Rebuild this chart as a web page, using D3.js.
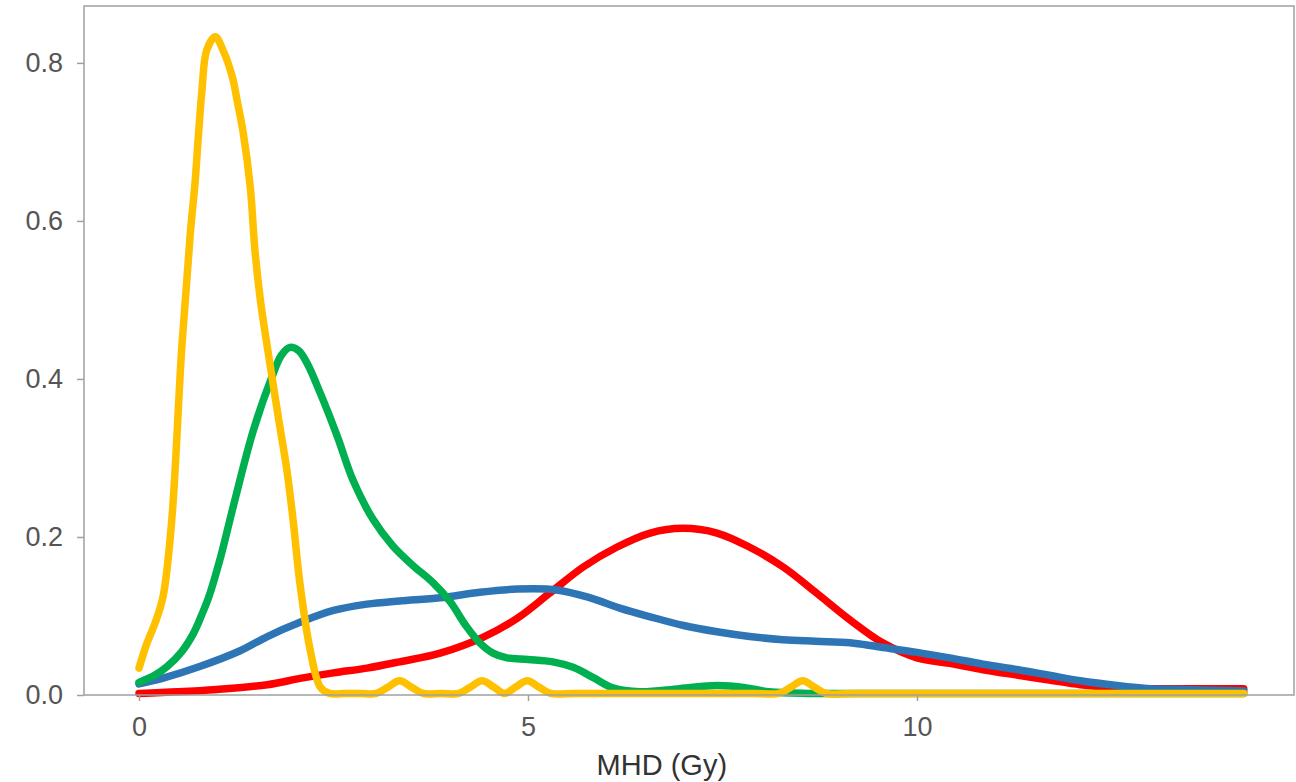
<!DOCTYPE html>
<html>
<head>
    <meta charset="utf-8">
    <title>MHD density</title>
    <script type="text/javascript" src="https://d3js.org/d3.v7.min.js"></script>
    <style>
        body { margin: 0; background: #fff; }
        .tick text { font-family: "Liberation Sans", Arial, sans-serif; }
    </style>
</head>

<body>

<script type="text/javascript">
    // density curves, [MHD (Gy), density]
    var redSeries = [
        [0, 0.002], [0.5, 0.004], [1.0, 0.007], [1.65, 0.013], [2.07, 0.021],
        [2.5, 0.028], [2.93, 0.034], [3.35, 0.042], [3.87, 0.053], [4.42, 0.073],
        [4.86, 0.097], [5.28, 0.129], [5.71, 0.162], [6.14, 0.187], [6.57, 0.205],
        [6.99, 0.211], [7.43, 0.205], [7.85, 0.187], [8.28, 0.162], [8.71, 0.129],
        [9.14, 0.095], [9.56, 0.066], [10.0, 0.047], [10.42, 0.040], [10.85, 0.032],
        [11.3, 0.025], [11.7, 0.019], [12.1, 0.013], [12.57, 0.009], [13.0, 0.008],
        [13.42, 0.008], [13.8, 0.008], [14.2, 0.008]
    ];
    var blueSeries = [
        [0, 0.014], [0.3, 0.021], [0.78, 0.036], [1.3, 0.056], [1.65, 0.074],
        [2.07, 0.092], [2.5, 0.107], [2.93, 0.115], [3.35, 0.119], [3.87, 0.123],
        [4.38, 0.130], [4.86, 0.134], [5.37, 0.133], [5.8, 0.123], [6.18, 0.110],
        [6.57, 0.099], [7.0, 0.088], [7.43, 0.080], [7.85, 0.074], [8.28, 0.070],
        [8.7, 0.068], [9.14, 0.066], [9.5, 0.061], [10.0, 0.054], [10.42, 0.047],
        [10.85, 0.039], [11.3, 0.032], [11.7, 0.025], [12.1, 0.018], [12.57, 0.012],
        [13.0, 0.008], [13.42, 0.007], [13.8, 0.006], [14.2, 0.005]
    ];
    var greenSeries = [
        [0, 0.016], [0.2, 0.025], [0.36, 0.036], [0.55, 0.055], [0.7, 0.078],
        [0.8, 0.100], [0.9, 0.125], [1.05, 0.175], [1.21, 0.238], [1.47, 0.335],
        [1.71, 0.403], [1.83, 0.430], [1.94, 0.440], [2.05, 0.436], [2.16, 0.420],
        [2.33, 0.382], [2.55, 0.327], [2.75, 0.272], [3.01, 0.222], [3.26, 0.189],
        [3.52, 0.164], [3.78, 0.142], [4.0, 0.118], [4.2, 0.088], [4.38, 0.066],
        [4.55, 0.053], [4.73, 0.047], [5.0, 0.045], [5.32, 0.042], [5.58, 0.035],
        [5.84, 0.022], [6.09, 0.009], [6.44, 0.004], [6.95, 0.008], [7.43, 0.012],
        [7.81, 0.009], [8.1, 0.004], [8.6, 0.002], [9.2, 0.002], [9.8, 0.002],
        [10.5, 0.002], [11.2, 0.002], [11.9, 0.002], [12.6, 0.002], [13.3, 0.002],
        [14.2, 0.002]
    ];
    var yellowSeries = [
        [0, 0.034], [0.1, 0.065], [0.21, 0.092], [0.31, 0.125], [0.42, 0.220],
        [0.55, 0.440], [0.66, 0.585], [0.72, 0.648], [0.76, 0.703], [0.81, 0.766],
        [0.87, 0.816], [0.98, 0.833], [1.08, 0.816], [1.2, 0.782], [1.26, 0.753],
        [1.34, 0.711], [1.43, 0.643], [1.49, 0.563], [1.56, 0.500], [1.65, 0.440],
        [1.81, 0.340], [1.9, 0.285], [1.98, 0.222], [2.07, 0.140], [2.2, 0.057],
        [2.33, 0.010], [2.45, 0.002], [2.65, 0.002], [2.85, 0.002],
        [3.05, 0.002], [3.2, 0.010], [3.35, 0.018], [3.5, 0.010], [3.65, 0.002],
        [3.88, 0.002],
        [4.11, 0.002], [4.26, 0.010], [4.41, 0.018], [4.56, 0.010], [4.7, 0.002],
        [4.84, 0.010], [4.99, 0.018], [5.14, 0.010], [5.29, 0.002],
        [5.6, 0.002], [6.0, 0.002], [6.5, 0.002], [7.0, 0.002], [7.5, 0.002],
        [7.9, 0.002],
        [8.23, 0.002], [8.38, 0.010], [8.53, 0.018], [8.68, 0.010], [8.83, 0.002],
        [9.2, 0.002], [9.8, 0.002], [10.5, 0.002], [11.2, 0.002], [11.9, 0.002],
        [12.6, 0.002], [13.3, 0.002], [14.2, 0.002]
    ];

    var seriesList = [redSeries, blueSeries, greenSeries, yellowSeries];
    var seriesColors = ["#ff0000", "#2e75b6", "#00b050", "#ffc000"];

    var xTicks = [0, 5, 10],
        yTicks = [0, 0.2, 0.4, 0.6, 0.8];

    var width = 1296, height = 782,
        margins = {top: 6, left: 84, right: 2, bottom: 87};

    var innerW = width - margins.left - margins.right,
        innerH = height - margins.top - margins.bottom;

    var x = d3.scaleLinear().domain([-0.707, 14.846]).range([0, innerW]),
        y = d3.scaleLinear().domain([0, 0.872]).range([innerH, 0]);

    var svg = d3.select("body").append("svg")
            .attr("width", width)
            .attr("height", height);

    var g = svg.append("g")
            .attr("transform", "translate(" + margins.left + "," + margins.top + ")");

    // the curves, drawn first so the frame sits over their ends
    var line = d3.line()
            .x(function (d) { return x(d[0]); })
            .y(function (d) { return y(d[1]); })
            .curve(d3.curveCatmullRom.alpha(0.5));

    g.selectAll("path.curve")
            .data(seriesList)
            .enter()
            .append("path")
            .attr("class", "curve")
            .attr("d", line)
            .style("fill", "none")
            .style("stroke", function (d, i) { return seriesColors[i]; })
            .style("stroke-width", 7.5)
            .style("stroke-linecap", "round")
            .style("stroke-linejoin", "round");

    // frame around the plot area
    g.append("rect")
            .attr("x", 0)
            .attr("y", 0)
            .attr("width", innerW)
            .attr("height", innerH)
            .style("fill", "none")
            .style("stroke", "#a0a0a0")
            .style("stroke-width", 1.5);

    var xAxis = d3.axisBottom(x).tickValues(xTicks).tickFormat(d3.format("d"))
            .tickSize(6).tickPadding(16);
    var yAxis = d3.axisLeft(y).tickValues(yTicks).tickFormat(d3.format(".1f"))
            .tickSize(7).tickPadding(14);

    var xg = g.append("g")
            .attr("transform", "translate(0," + innerH + ")")
            .call(xAxis);
    var yg = g.append("g").call(yAxis);

    [xg, yg].forEach(function (ax) {
        ax.select(".domain").remove();
        ax.selectAll(".tick line").style("stroke", "#a0a0a0").style("stroke-width", 1.5);
        ax.selectAll(".tick text")
                .style("fill", "#555")
                .style("font-size", "27px");
    });

    // x axis title
    g.append("text")
            .attr("x", x(6.72))
            .attr("y", innerH + 80)
            .attr("text-anchor", "middle")
            .style("font-family", "'Liberation Sans', Arial, sans-serif")
            .style("font-size", "29px")
            .style("fill", "#333")
            .text("MHD (Gy)");
</script>

</body>

</html>
